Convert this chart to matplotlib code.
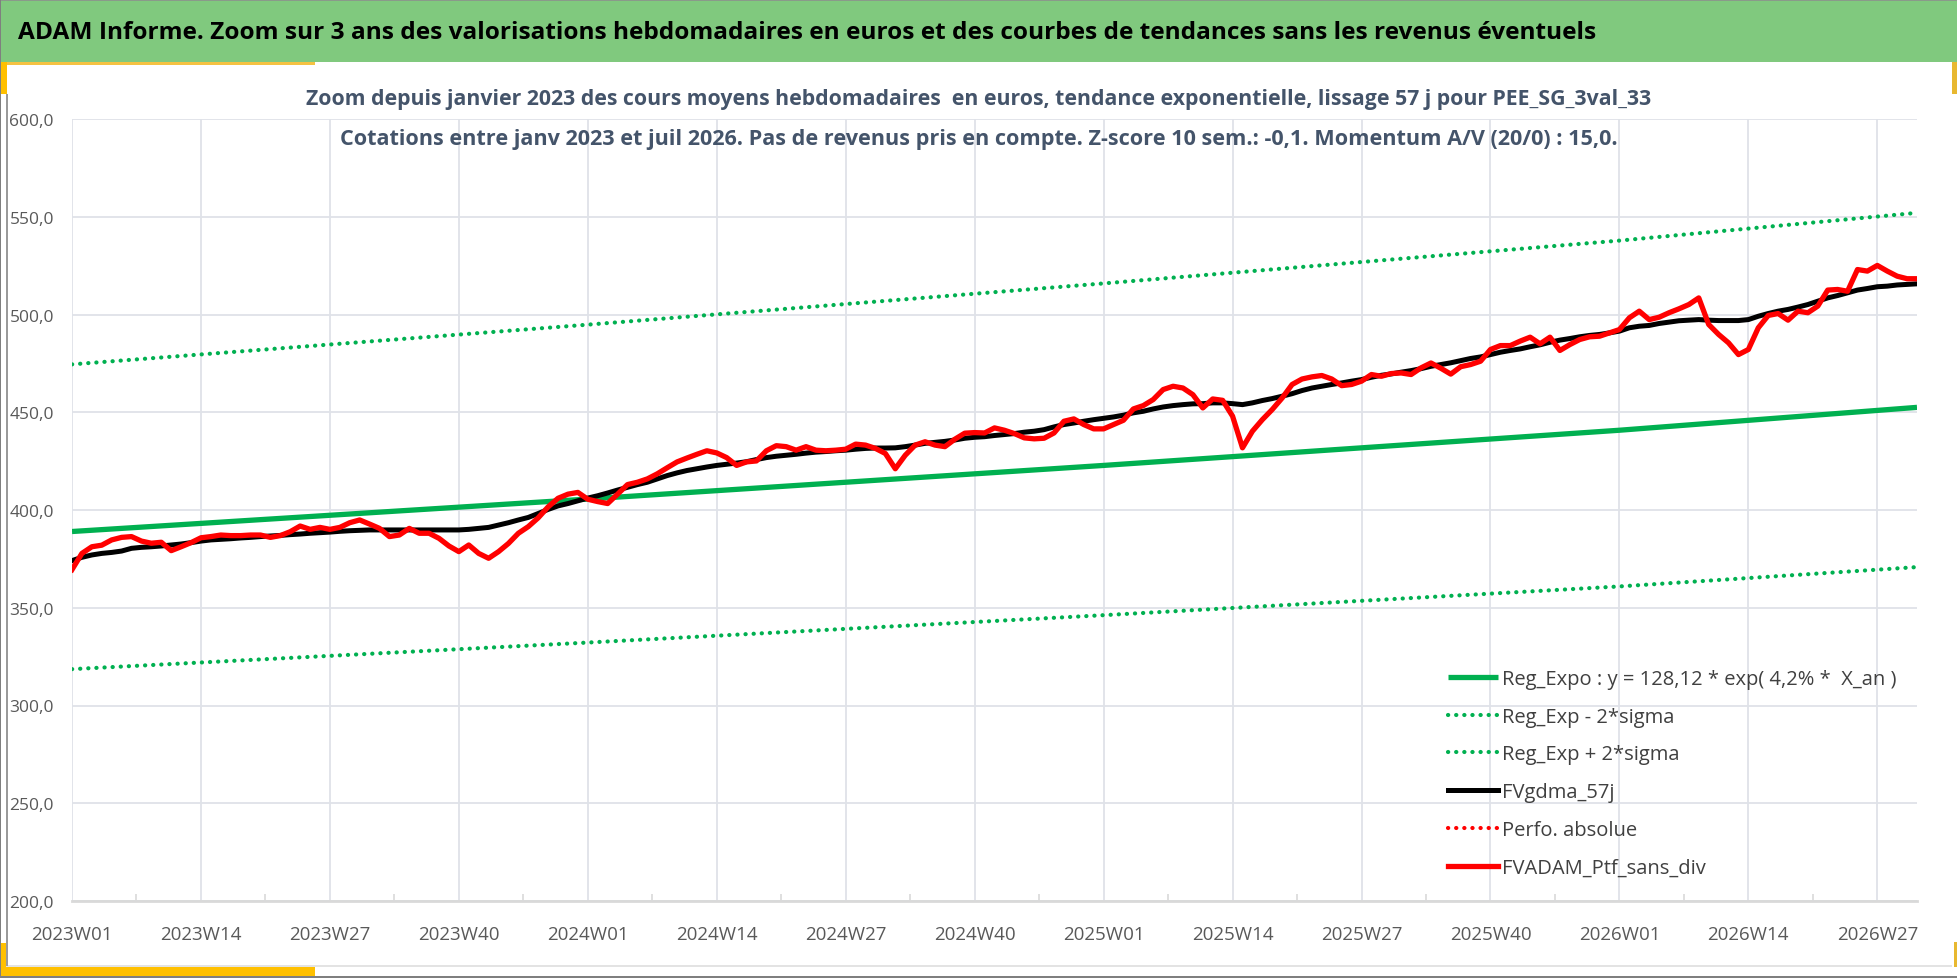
import matplotlib
matplotlib.use("Agg")
import matplotlib.pyplot as plt
from matplotlib import font_manager
from matplotlib.patches import Rectangle
from matplotlib.ticker import FuncFormatter, MultipleLocator

# --- données (une valeur par semaine, 2023W01 -> 2026W31)
weeks_count = 187

tick_pos = list(range(0, 183, 13))
tick_labels = ["2023W01", "2023W14", "2023W27", "2023W40",
               "2024W01", "2024W14", "2024W27", "2024W40",
               "2025W01", "2025W14", "2025W27", "2025W40",
               "2026W01", "2026W14", "2026W27"]

# courbes de tendance (valeurs relevées à quelques semaines)
trend_x = [0, 52, 104, 156, 186]
reg_expo = [389.0, 405.6, 422.8, 440.8, 452.5]
reg_minus = [318.6, 332.2, 346.2, 360.9, 370.8]
reg_plus = [474.5, 494.8, 515.9, 537.8, 552.0]

fvgdma = [374.1, 375.8, 377.0, 377.8, 378.3, 379.0, 380.4, 380.9, 381.2, 381.6,
          382.1, 382.6, 383.3, 384.1, 384.7, 385.0, 385.3, 385.7, 386.0, 386.4,
          386.7, 387.0, 387.4, 387.7, 388.1, 388.4, 388.7, 389.1, 389.4, 389.6,
          389.8, 389.8, 389.8, 389.8, 389.8, 389.8, 389.8, 389.8, 389.8, 389.8,
          390.1, 390.6, 391.1, 392.3, 393.5, 394.9, 396.2, 398.2, 400.3, 402.1,
          403.3, 404.7, 406.1, 407.3, 408.7, 410.2, 411.6, 413.0, 414.2, 415.9,
          417.6, 419.0, 420.2, 421.1, 422.0, 422.8, 423.4, 424.0, 424.7, 425.8,
          426.8, 427.5, 428.0, 428.5, 429.1, 429.6, 429.9, 430.3, 430.6, 431.1,
          431.5, 431.7, 431.7, 431.8, 432.4, 433.2, 434.1, 434.6, 435.1, 435.8,
          436.7, 437.2, 437.5, 438.1, 438.6, 439.1, 439.8, 440.3, 441.1, 442.5,
          443.7, 444.5, 445.4, 446.2, 446.9, 447.6, 448.5, 449.7, 450.5, 451.7,
          452.7, 453.4, 453.9, 454.3, 454.4, 454.8, 454.8, 454.4, 453.9, 454.8,
          456.0, 457.0, 458.2, 459.5, 461.1, 462.4, 463.3, 464.2, 465.0, 465.9,
          466.7, 467.9, 468.9, 469.6, 470.5, 471.3, 472.3, 473.5, 474.4, 475.3,
          476.4, 477.5, 478.3, 479.5, 480.7, 481.6, 482.4, 483.5, 484.5, 485.8,
          486.9, 487.7, 488.6, 489.3, 489.8, 490.6, 491.5, 493.2, 494.0, 494.4,
          495.4, 496.1, 496.8, 497.1, 497.4, 497.1, 496.9, 496.9, 496.9, 497.4,
          499.1, 500.5, 501.7, 502.6, 503.8, 505.1, 506.8, 508.5, 509.7, 511.1,
          512.5, 513.3, 514.2, 514.5, 515.1, 515.4, 515.7]

fvadam = [369.5, 377.8, 381.2, 382.0, 384.7, 386.0, 386.4, 384.1, 383.0, 383.5,
          379.2, 381.2, 383.3, 385.8, 386.4, 387.2, 386.9, 386.9, 387.2, 387.2,
          386.0, 386.9, 388.9, 391.8, 390.1, 391.1, 390.1, 391.1, 393.5, 394.9,
          392.8, 390.6, 386.4, 387.2, 390.6, 388.1, 388.1, 385.5, 381.6, 378.7,
          382.1, 377.8, 375.3, 378.7, 382.9, 388.1, 391.5, 396.0, 401.6, 406.0,
          408.1, 409.0, 405.5, 404.3, 403.3, 408.1, 413.0, 414.2, 415.9, 418.5,
          421.6, 424.6, 426.6, 428.5, 430.3, 429.2, 426.8, 422.8, 424.6, 425.1,
          430.3, 432.9, 432.4, 430.6, 432.4, 430.6, 430.3, 430.6, 431.1, 433.7,
          433.2, 431.5, 428.9, 421.1, 428.0, 433.2, 434.9, 433.2, 432.4, 436.2,
          439.3, 439.6, 439.4, 442.0, 440.8, 439.1, 436.9, 436.4, 436.7, 439.4,
          445.4, 446.6, 443.7, 441.5, 441.5, 443.7, 445.9, 451.7, 453.4, 456.5,
          461.6, 463.3, 462.4, 459.0, 452.2, 456.8, 456.1, 448.0, 431.8, 440.3,
          446.2, 451.4, 457.3, 464.2, 467.0, 468.1, 468.8, 467.0, 463.6, 464.2,
          465.9, 469.3, 468.4, 469.8, 470.1, 469.3, 472.7, 475.2, 472.5, 469.5,
          473.3, 474.4, 476.1, 482.1, 484.1, 484.1, 486.4, 488.4, 485.0, 488.4,
          481.6, 484.6, 487.2, 488.6, 488.9, 490.6, 492.3, 498.3, 501.7, 497.4,
          498.6, 500.9, 502.9, 505.1, 508.5, 494.9, 489.8, 485.5, 479.5, 482.1,
          493.2, 499.5, 500.5, 497.1, 501.7, 500.9, 504.3, 512.5, 512.8, 511.9,
          523.0, 522.2, 525.1, 522.2, 519.6, 518.3, 518.3]

perfo_absolue = []  # série présente dans la légende mais sans points visibles

titre = ("ADAM Informe. Zoom sur 3 ans des valorisations hebdomadaires en euros "
         "et des courbes de tendances sans les revenus éventuels")
sous_titre_1 = ("Zoom depuis janvier 2023 des cours moyens hebdomadaires  en euros, "
                "tendance exponentielle, lissage 57 j pour PEE_SG_3val_33")
sous_titre_2 = ("Cotations entre janv 2023 et juil 2026. Pas de revenus pris en compte. "
                "Z-score 10 sem.: -0,1. Momentum A/V (20/0) : 15,0.")

# --- police étroite si disponible (rendu proche de Calibri)
installed = {f.name for f in font_manager.fontManager.ttflist}
famille = "DejaVu Sans"
for nom in ["Liberation Sans Narrow", "Open Sans", "Lato", "Roboto"]:
    if nom in installed:
        famille = nom
        break
plt.rcParams["font.family"] = [famille, "DejaVu Sans"]

W, H = 1958, 979
fig = plt.figure(figsize=(W / 100, H / 100), dpi=100)
fig.patch.set_facecolor("white")


def rect_px(x, y, w, h, color, z=0):
    # rectangle en pixels, origine en haut à gauche
    r = Rectangle((x / W, 1 - (y + h) / H), w / W, h / H, transform=fig.transFigure,
                  facecolor=color, edgecolor="none", zorder=z)
    fig.add_artist(r)
    return r


# cadre et décorations
rect_px(0, 0, W, 63, "#80c97e", z=1)
rect_px(0, 0, W, 2, "#8a9a8a", z=2)
rect_px(0, 63, 315, 3, "#f5c242", z=2)
rect_px(0, 63, 7, 32, "#ffc000", z=2)
rect_px(1952, 63, 6, 32, "#e8b830", z=2)
rect_px(0, 944, 6, 26, "#ffc000", z=2)
rect_px(0, 968, 315, 9, "#ffc000", z=2)
rect_px(1954, 943, 4, 25, "#e8b830", z=2)
rect_px(6, 966, 1946, 2, "#e3e3e3", z=1)
rect_px(6, 95, 2, 872, "#9a9a9a", z=1)
rect_px(0, 977, W, 2, "#7f7f7f", z=2)
rect_px(0, 0, 1, H, "#7f7f7f", z=2)
rect_px(W - 1, 0, 1, H, "#7f7f7f", z=2)

ax = fig.add_axes([72 / W, 1 - 902 / H, (1917 - 72) / W, (902 - 120) / H])
x = list(range(weeks_count))

pointille = dict(lw=3.0, dashes=(0.05, 1.9), dash_capstyle="round")

ax.plot(trend_x, reg_expo, color="#00b050", lw=3.8, solid_capstyle="butt",
        label="Reg_Expo : y = 128,12 * exp( 4,2% *  X_an )", zorder=3)
ax.plot(trend_x, reg_minus, color="#00b050", label="Reg_Exp - 2*sigma",
        zorder=3, **pointille)
ax.plot(trend_x, reg_plus, color="#00b050", label="Reg_Exp + 2*sigma",
        zorder=3, **pointille)
ax.plot(x, fvgdma, color="black", lw=3.6, label="FVgdma_57j", zorder=4)
ax.plot(perfo_absolue, perfo_absolue, color="#ff0000", label="Perfo. absolue",
        **pointille)
ax.plot(x, fvadam, color="#ff0000", lw=3.8, solid_joinstyle="round",
        label="FVADAM_Ptf_sans_div", zorder=5)

ax.set_xlim(0, weeks_count - 1)
ax.set_ylim(200, 600)
ax.set_xticks(tick_pos)
ax.set_xticklabels(tick_labels)
ax.xaxis.set_minor_locator(MultipleLocator(6.5))
ax.yaxis.set_major_locator(MultipleLocator(50))
ax.yaxis.set_major_formatter(FuncFormatter(lambda v, p: f"{v:.1f}".replace(".", ",")))

ax.grid(True, which="major", color="#dfe2e8", lw=1.3)
ax.set_axisbelow(True)
for s in ["top", "right", "left"]:
    ax.spines[s].set_visible(False)
ax.spines["bottom"].set_color("#d9d9d9")
ax.spines["bottom"].set_linewidth(2)
ax.tick_params(axis="y", length=0, pad=13, labelsize=12.5, labelcolor="#595959")
ax.tick_params(axis="x", which="major", length=0, pad=17, labelsize=13.5,
               labelcolor="#595959")
ax.tick_params(axis="x", which="minor", direction="in", length=5, width=1.2,
               color="#d9d9d9")

leg = ax.legend(loc="upper left", bbox_to_anchor=(1448 / W, 1 - 670 / H),
                bbox_transform=fig.transFigure, frameon=False, fontsize=14.5,
                handlelength=2.5, handletextpad=0.2, labelspacing=0.88,
                borderpad=0, borderaxespad=0)
for t in leg.get_texts():
    t.set_color("#404040")

# titres
t0 = fig.text(18 / W, 1 - 33 / H, titre, fontsize=20, fontweight="bold",
              color="black", ha="left", va="center", zorder=5)
t1 = fig.text(979 / W, 1 - 100 / H, sous_titre_1, fontsize=16, fontweight="bold",
              color="#44546a", ha="center", va="center", zorder=6)
t2 = fig.text(979 / W, 1 - 140 / H, sous_titre_2, fontsize=16, fontweight="bold",
              color="#44546a", ha="center", va="center", zorder=6)

renderer = fig.canvas.get_renderer()
for t, largeur in [(t0, 1576), (t1, 1346), (t2, 1276)]:
    w = t.get_window_extent(renderer).width
    t.set_fontsize(t.get_fontsize() * largeur / w)

fig.savefig("out.png", dpi=100, facecolor="white")
